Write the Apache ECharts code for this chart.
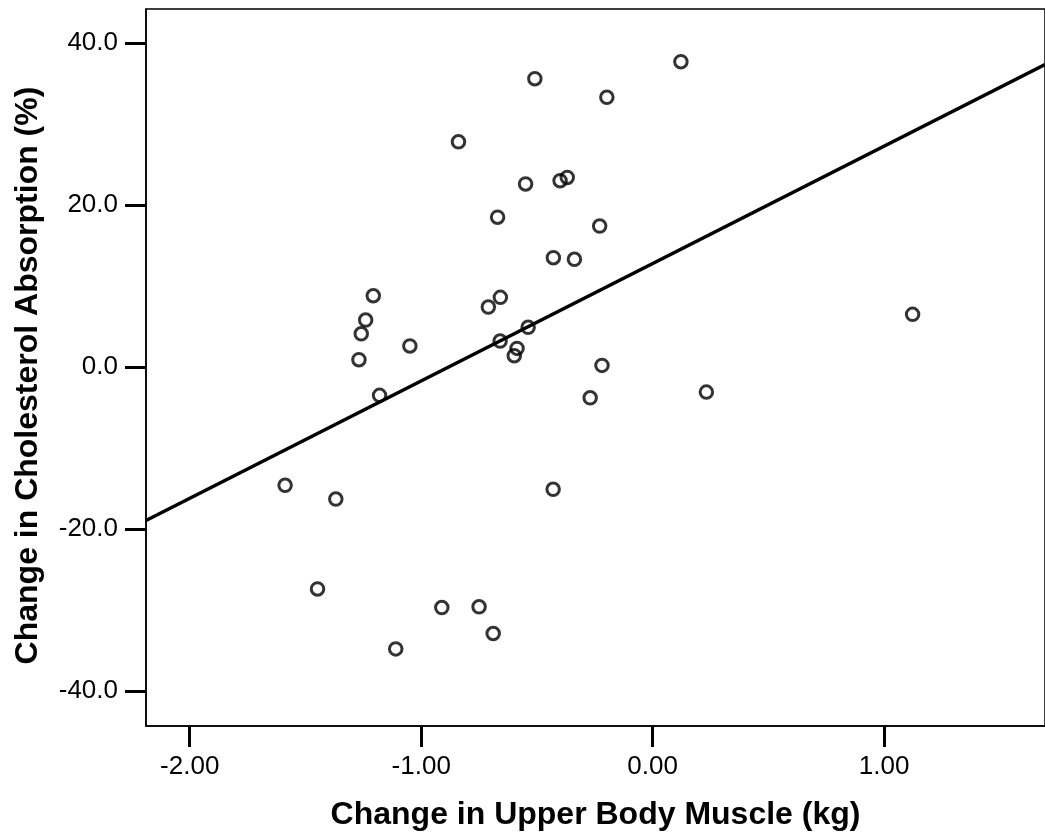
<!DOCTYPE html>
<html>
<head>
<meta charset="utf-8">
<style>
  html, body { margin: 0; padding: 0; background: #fff; }
  #chart { width: 1045px; height: 838px; }
</style>
<script src="https://cdn.jsdelivr.net/npm/echarts@6/dist/echarts.min.js"></script>
</head>
<body>
<div id="chart"></div>
<script>
// Change in upper body muscle (kg) for each subject
const muscleChange = [
  0.122, -0.509, -0.198, -0.839, -0.549, -0.400, -0.369, -0.670, -0.229,
  -0.429, -0.338, -1.207, -1.240, -1.259, -1.269, -1.049, -0.710, -0.658,
  -0.538, -0.659, -0.586, -0.598, -0.219, -1.180, -0.270, 0.232, 1.123,
  -1.588, -1.369, -0.430, -1.448, -0.911, -0.750, -0.689, -1.110
];
// Change in cholesterol absorption (%) for the same subjects
const absorptionChange = [
  37.7, 35.6, 33.3, 27.8, 22.6, 23.0, 23.4, 18.5, 17.4,
  13.5, 13.3, 8.8, 5.8, 4.1, 0.9, 2.6, 7.4, 8.6,
  4.9, 3.2, 2.3, 1.4, 0.2, -3.5, -3.8, -3.1, 6.5,
  -14.6, -16.3, -15.1, -27.4, -29.7, -29.6, -32.9, -34.8
];
// Least-squares fit line, end points at the plot edges
const fitX = [-2.189, 1.695];
const fitY = [-18.95, 37.33];

// Axis ticks
const xTicks = [-2, -1, 0, 1];
const yTicks = [-40, -20, 0, 20, 40];
const xRange = [-2.189, 1.695];
const yRange = [-44.32, 44.2];

const points = muscleChange.map((x, i) => [x, absorptionChange[i]]);
const fitLine = fitX.map((x, i) => [x, fitY[i]]);

const FONT = '"Liberation Sans", Arial, Helvetica, sans-serif';

const chart = echarts.init(document.getElementById('chart'), null, { renderer: 'canvas' });
chart.setOption({
  backgroundColor: '#fff',
  animation: false,
  grid: {
    left: 146, right: -4, top: 9, bottom: 112,
    show: true, borderColor: '#000', borderWidth: 1.5,
    backgroundColor: 'transparent'
  },
  xAxis: {
    type: 'value',
    min: xRange[0], max: xRange[1],
    name: 'Change in Upper Body Muscle (kg)',
    nameLocation: 'middle',
    nameGap: 73,
    nameTextStyle: { color: '#000', fontFamily: FONT, fontWeight: 'bold', fontSize: 32 },
    splitLine: { show: false },
    axisLine: { show: true, onZero: false, lineStyle: { color: '#000', width: 1.5 } },
    axisTick: { show: true, length: 21, customValues: xTicks, lineStyle: { color: '#000', width: 3 } },
    axisLabel: {
      customValues: xTicks, margin: 28, color: '#000', fontFamily: FONT, fontSize: 26,
      formatter: v => v.toFixed(2)
    }
  },
  yAxis: {
    type: 'value',
    min: yRange[0], max: yRange[1],
    name: 'Change in Cholesterol Absorption (%)',
    nameLocation: 'middle',
    nameGap: 102,
    nameTextStyle: {
      color: '#000', fontFamily: FONT, fontWeight: 'bold', fontSize: 32,
      padding: [0, 16, 0, 0]
    },
    splitLine: { show: false },
    axisLine: { show: true, onZero: false, lineStyle: { color: '#000', width: 1.5 } },
    axisTick: { show: true, length: 21, customValues: yTicks, lineStyle: { color: '#000', width: 3 } },
    axisLabel: {
      customValues: yTicks, margin: 28, color: '#000', fontFamily: FONT, fontSize: 26,
      formatter: v => v.toFixed(1)
    }
  },
  series: [
    {
      type: 'line',
      data: fitLine,
      symbol: 'none',
      clip: true,
      silent: true,
      lineStyle: { color: '#000', width: 3.5 },
      z: 2
    },
    {
      type: 'scatter',
      data: points,
      symbol: 'circle',
      symbolSize: 12.5,
      itemStyle: { color: 'rgba(255,255,255,0)', borderColor: '#000', borderWidth: 3 },
      z: 3
    }
  ]
});
</script>
</body>
</html>
